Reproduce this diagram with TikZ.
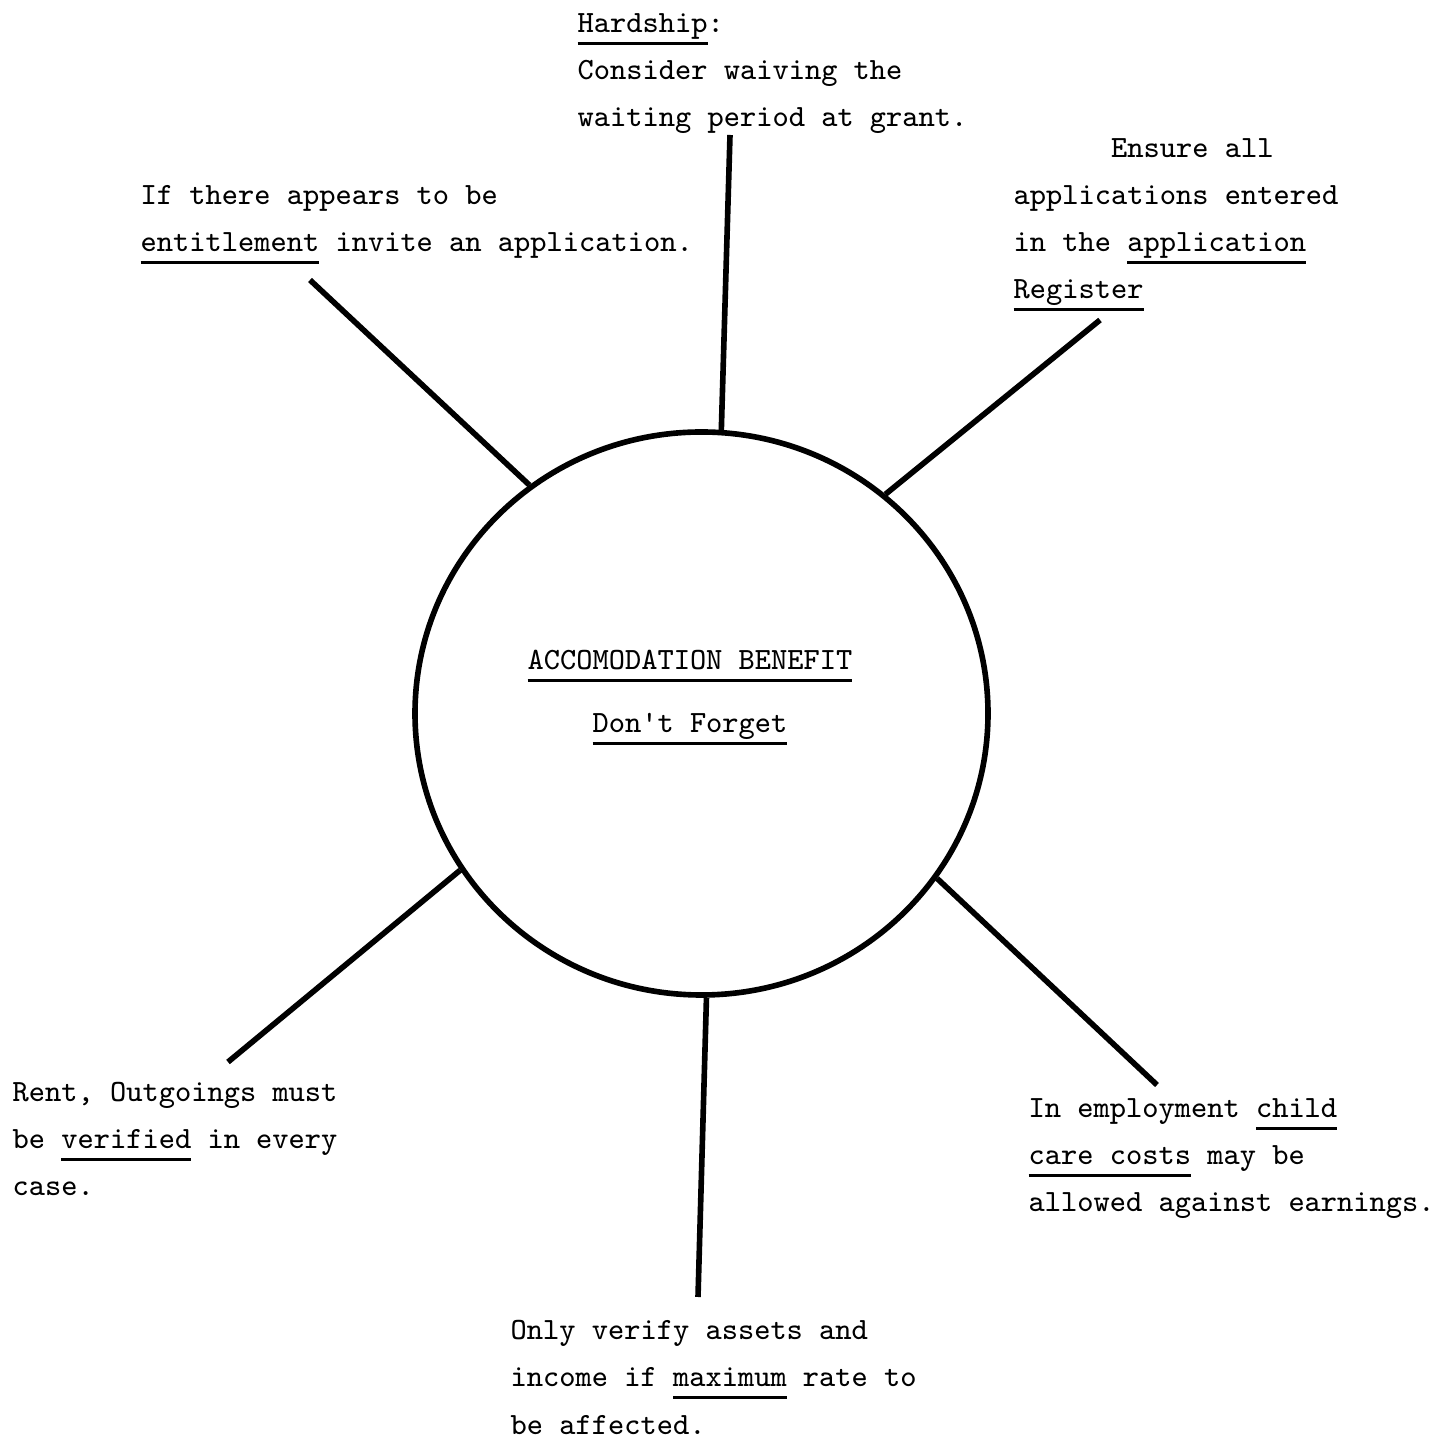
\documentclass[tikz,border=0pt]{standalone}
\usetikzlibrary{shapes.geometric}
\newcommand{\notefont}{\ttfamily\fontsize{8.8}{13.4}\selectfont}
\newsavebox{\ulbox}
\newcommand{\typeul}[1]{\sbox{\ulbox}{#1}\rlap{\rule[-3.4pt]{\wd\ulbox}{0.7pt}}\usebox{\ulbox}}

\begin{document}
\begin{tikzpicture}[
  spoke/.style={line width=1.6pt},
  note/.style={font=\notefont, align=left, anchor=base west, inner sep=0pt},
  banner/.style={font=\notefont, anchor=base, inner sep=0pt},
]

% Page
\useasboundingbox (0,0) rectangle (14.43,14.46);

% Centre circle
\node[ellipse, draw, line width=1.6pt, minimum width=5.73cm, minimum height=5.63cm, inner sep=0pt] (hub) at (7.015,7.325) {};
\node[banner] (title) at (6.90,7.76) {\typeul{ACCOMODATION BENEFIT}};
\node[banner] (reminder) at (6.90,7.13) {\typeul{Don\textquotesingle t Forget}};

% Notes round the circle (placed by the baseline of their last line)
\node[note] (hardship) at (5.77,13.19) {\typeul{Hardship}:\\Consider waiving the\\waiting period at grant.};
\node[note] (invite) at (1.40,11.94) {If there appears to be\\\typeul{entitlement} invite an application.};
\node[note] (register) at (10.13,11.47) {\hphantom{xxxxxx}Ensure all\\applications entered\\in the \typeul{application}\\\typeul{Register}};
\node[note] (verify) at (0.12,2.50) {Rent, Outgoings must\\be \typeul{verified} in every\\case.};
\node[note] (assets) at (5.10,0.12) {Only verify assets and\\income if \typeul{maximum} rate to\\be affected.};
\node[note] (childcare) at (10.28,2.34) {In employment \typeul{child}\\\typeul{care costs} may be\\allowed against earnings.};

% Spoke ends
\coordinate (hardshipend) at (7.30,13.11);
\coordinate (inviteend) at (3.10,11.66);
\coordinate (registerend) at (11.00,11.26);
\coordinate (verifyend) at (2.28,3.84);
\coordinate (assetsend) at (6.98,1.49);
\coordinate (childcareend) at (11.57,3.61);

% Spokes
\draw[spoke] (hub.86.6) -- (hardshipend);
\draw[spoke] (hub.127.2) -- (inviteend);
\draw[spoke] (hub.50.0) -- (registerend);
\draw[spoke] (hub.213.2) -- (verifyend);
\draw[spoke] (hub.271.3) -- (assetsend);
\draw[spoke] (hub.325.9) -- (childcareend);

\end{tikzpicture}
\end{document}
